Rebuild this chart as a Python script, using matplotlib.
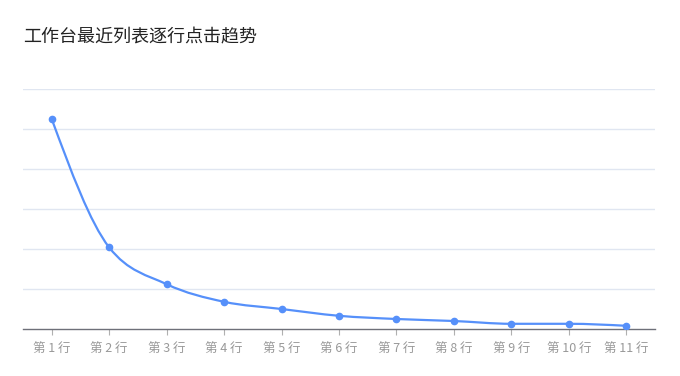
import matplotlib
matplotlib.use("Agg")
import matplotlib.pyplot as plt
import numpy as np
from matplotlib.path import Path
from matplotlib.patches import PathPatch

plt.rcParams['font.family'] = ['Noto Sans CJK SC', 'DejaVu Sans']

title = "工作台最近列表逐行点击趋势"
categories = ["第 1 行", "第 2 行", "第 3 行", "第 4 行", "第 5 行", "第 6 行",
              "第 7 行", "第 8 行", "第 9 行", "第 10 行", "第 11 行"]
clicks = [52.5, 20.4, 11.2, 6.8, 5.0, 3.3, 2.5, 2.0, 1.3, 1.3, 0.8]

line_color = "#5690FA"
grid_color = "#E0E6F1"
axis_color = "#6E7079"

fig = plt.figure(figsize=(6.8, 3.76), dpi=100)
ax = fig.add_axes([23 / 680, 47 / 376, 632 / 680, 240 / 376])
ax.set_xlim(-0.5, len(categories) - 0.5)
ax.set_ylim(0, 60)

# grid lines
ax.set_yticks(np.arange(10, 61, 10))
ax.yaxis.grid(True, color=grid_color, linewidth=1)
ax.tick_params(axis="y", length=0, labelleft=False)
ax.set_axisbelow(True)
for s in ["top", "right", "left"]:
    ax.spines[s].set_visible(False)
ax.spines["bottom"].set_color(axis_color)
ax.spines["bottom"].set_linewidth(1)

x = np.arange(len(categories))
ax.set_xticks(x)
ax.set_xticklabels(categories, fontsize=9, color="#999999")
ax.tick_params(axis="x", length=4, color="#b0b0b0", pad=5)

# monotone-x cubic curve through the points
y = np.asarray(clicks, dtype=float)
n = len(x)
s = np.diff(y)  # unit x spacing
t = np.zeros(n)
for i in range(1, n - 1):
    p = (s[i - 1] + s[i]) / 2
    t[i] = (np.sign(s[i - 1]) + np.sign(s[i])) * min(abs(s[i - 1]), abs(s[i]), 0.5 * abs(p))
t[0] = (3 * s[0] - t[1]) / 2
t[-1] = (3 * s[-1] - t[-2]) / 2

verts = [(x[0], y[0])]
codes = [Path.MOVETO]
for i in range(n - 1):
    verts += [(x[i] + 1 / 3, y[i] + t[i] / 3),
              (x[i + 1] - 1 / 3, y[i + 1] - t[i + 1] / 3),
              (x[i + 1], y[i + 1])]
    codes += [Path.CURVE4] * 3
ax.add_patch(PathPatch(Path(verts, codes), fill=False, edgecolor=line_color,
                       linewidth=1.6, zorder=3))
ax.plot(x, clicks, linestyle="none", marker="o", markersize=4.5,
        color=line_color, zorder=4)

fig.text(23 / 680, 1 - 37 / 376, title, fontsize=13, color="#222222",
         ha="left", va="center")

fig.savefig("out.png", dpi=100)
